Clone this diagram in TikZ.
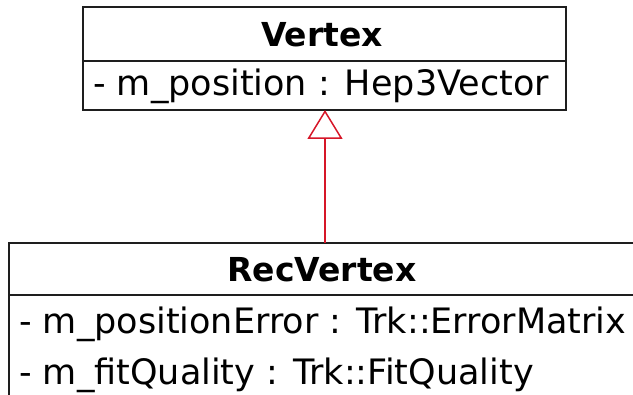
\documentclass[tikz,border=0pt]{standalone}
\usepackage{fontspec}
\setmainfont{DejaVu Sans}
\usetikzlibrary{arrows.meta}
\definecolor{umlred}{RGB}{214,22,40}
\definecolor{umlline}{RGB}{30,30,30}
\tikzset{
  box/.style={draw=umlline, line width=1.8pt},
  title/.style={font=\fontsize{33}{38}\selectfont\bfseries, inner sep=0pt},
  attr/.style={font=\fontsize{35}{40}\selectfont, inner sep=0pt, anchor=west},
  inherit/.style={draw=umlred, line width=1.5pt, -{Triangle[open, length=29pt, width=35pt, line width=1.5pt]}}
}
\begin{document}
\begin{tikzpicture}[x=1pt, y=-1pt]
\useasboundingbox (0,0) rectangle (633,395);
\clip (0,0) rectangle (633,395);
% Vertex class
\draw[box] (83,7) rectangle (566,110);
\draw[box] (83,61) -- (566,61);
\node[title] (vname) at (322,35) {Vertex};
\node[attr] (vattr) at (93,86) {- m\_position : Hep3Vector};
\coordinate (vbot) at (325,110);
% RecVertex class
\draw[box] (9,243) rectangle (645,410);
\draw[box] (9,295) -- (645,295);
\node[title] (rname) at (322,270) {RecVertex};
\node[attr] (rattr1) at (19,324) {- m\_positionError : Trk::ErrorMatrix};
\node[attr] (rattr2) at (19,375) {- m\_fitQuality : Trk::FitQuality};
\coordinate (rtop) at (325,243);
% generalization
\draw[inherit] (rtop) -- (vbot);
\end{tikzpicture}
\end{document}
